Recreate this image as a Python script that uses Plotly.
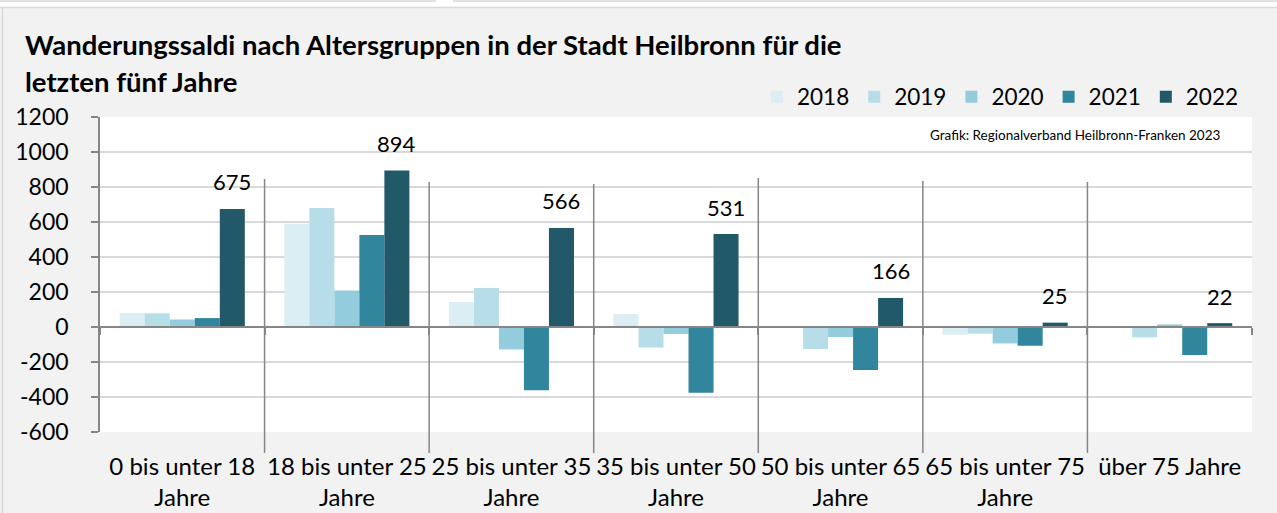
import plotly.graph_objects as go

# ---------------- data ----------------
categories = ["0 bis unter 18 Jahre", "18 bis unter 25 Jahre", "25 bis unter 35 Jahre",
              "35 bis unter 50 Jahre", "50 bis unter 65 Jahre", "65 bis unter 75 Jahre",
              "über 75 Jahre"]
tick_labels = ["0 bis unter 18<br>Jahre", "18 bis unter 25<br>Jahre", "25 bis unter 35<br>Jahre",
               "35 bis unter 50<br>Jahre", "50 bis unter 65<br>Jahre", "65 bis unter 75<br>Jahre",
               "über 75 Jahre"]
years = ["2018", "2019", "2020", "2021", "2022"]
v2018 = [80, 590, 143, 74, -5, -44, 5]
v2019 = [78, 680, 223, -117, -126, -38, -59]
v2020 = [43, 209, -128, -40, -57, -94, 15]
v2021 = [51, 526, -362, -375, -246, -107, -160]
v2022 = [675, 894, 566, 531, 166, 25, 22]
series = [v2018, v2019, v2020, v2021, v2022]
y_ticks = [-600, -400, -200, 0, 200, 400, 600, 800, 1000, 1200]
y_tick_text = [str(v) for v in y_ticks]

title_line1 = "Wanderungssaldi nach Altersgruppen in der Stadt Heilbronn für die"
title_line2 = "letzten fünf Jahre"
source_text = "Grafik: Regionalverband Heilbronn-Franken 2023"

# ---------------- style ----------------
colors = ["#dbeef4", "#b7dee8", "#93cddd", "#31859c", "#215968"]
FONT = "Lato"
W, H = 1277, 513
ML, MR, MT, MB = 100, 25, 117, 81
PW, PH = W - ML - MR, H - MT - MB
BARGAP = 0.24
AXIS_GRAY = "#868686"


def px2x(px):
    return (px - ML) / PW


def px2y(py):
    return (H - MB - py) / PH


fig = go.Figure()
for name, vals, col in zip(years, series, colors):
    fig.add_trace(go.Bar(x=categories, y=vals, name=name, marker=dict(color=col, line=dict(width=0)),
                         hoverinfo="x+y+name"))

# data labels for 2022 (offset to the 5th bar of each group)
cat_w = PW / len(categories)
bar_w = cat_w * (1 - BARGAP) / len(years)
for c, v in zip(categories, v2022):
    fig.add_annotation(x=c, y=v, xref="x", yref="y", text=str(v), showarrow=False,
                       xshift=2 * bar_w, yshift=27, yanchor="middle",
                       font=dict(family=FONT, size=22, color="black"))

# title + source
fig.add_annotation(x=px2x(23), y=px2y(45), xref="paper", yref="paper", text="<b>%s</b>" % title_line1,
                   showarrow=False, xanchor="left", yanchor="middle",
                   font=dict(family=FONT, size=27.5, color="black"))
fig.add_annotation(x=px2x(23), y=px2y(82), xref="paper", yref="paper", text="<b>%s</b>" % title_line2,
                   showarrow=False, xanchor="left", yanchor="middle",
                   font=dict(family=FONT, size=27.5, color="black"))
fig.add_annotation(x=px2x(1222), y=px2y(135), xref="paper", yref="paper", text=source_text,
                   showarrow=False, xanchor="right", yanchor="middle",
                   font=dict(family=FONT, size=13.5, color="black"))

# separator lines between categories
sep_tops = [179, 182, 184, 178, 181, 182]
for i, top in enumerate(sep_tops):
    fig.add_shape(type="line", xref="x", yref="paper", x0=i + 0.5, x1=i + 0.5,
                  y0=px2y(top), y1=px2y(453), line=dict(color=AXIS_GRAY, width=1.5), layer="above")

# outer frame decoration
fig.add_shape(type="rect", xref="paper", yref="paper", x0=px2x(-5), x1=px2x(W + 5), y0=px2y(7), y1=px2y(-5),
              fillcolor="white", line=dict(width=0), layer="below")
fig.add_shape(type="line", xref="paper", yref="paper", x0=px2x(0), x1=px2x(W), y0=px2y(7.5), y1=px2y(7.5),
              line=dict(color="#d9d9d9", width=1.5))
fig.add_shape(type="line", xref="paper", yref="paper", x0=px2x(0), x1=px2x(436), y0=px2y(1), y1=px2y(1),
              line=dict(color="#d9d9d9", width=1.5))
fig.add_shape(type="line", xref="paper", yref="paper", x0=px2x(453), x1=px2x(W), y0=px2y(1), y1=px2y(1),
              line=dict(color="#d9d9d9", width=1.5))
fig.add_shape(type="line", xref="paper", yref="paper", x0=px2x(2.5), x1=px2x(2.5), y0=px2y(7.5), y1=px2y(H),
              line=dict(color="#d9d9d9", width=1.5))

fig.update_layout(
    width=W, height=H,
    margin=dict(l=ML, r=MR, t=MT, b=MB, autoexpand=False),
    paper_bgcolor="#f2f2f2", plot_bgcolor="white",
    barmode="group", bargap=BARGAP, bargroupgap=0,
    font=dict(family=FONT, color="black"),
    showlegend=True,
    legend=dict(orientation="h", x=px2x(1244), xanchor="right", y=px2y(97), yanchor="middle",
                bgcolor="rgba(0,0,0,0)", font=dict(family=FONT, size=22.5), traceorder="normal",
                itemwidth=30, tracegroupgap=0),
    xaxis=dict(type="category", categoryorder="array", categoryarray=categories,
               tickvals=categories, ticktext=tick_labels, range=[-0.5, len(categories) - 0.5],
               showgrid=False, zeroline=False, showline=False, ticks="",
               tickfont=dict(family=FONT, size=24, color="black"), ticklabelstandoff=18),
    xaxis2=dict(overlaying="x", anchor="free", position=1 / 3,
                range=[-0.5, len(categories) - 0.5], tickvals=[i - 0.5 for i in range(len(categories) + 1)],
                showticklabels=False, ticks="outside", ticklen=7, tickwidth=1.5, tickcolor=AXIS_GRAY,
                showline=True, linecolor=AXIS_GRAY, linewidth=2, showgrid=False, zeroline=False),
    yaxis=dict(range=[-600, 1200], tickvals=y_ticks, ticktext=y_tick_text, showgrid=True,
               gridcolor="#d9d9d9", gridwidth=2,
               zeroline=False, showline=True, linecolor=AXIS_GRAY, linewidth=1.5,
               ticks="outside", ticklen=7, tickwidth=1.5, tickcolor=AXIS_GRAY,
               tickfont=dict(family=FONT, size=23, color="black"), ticklabelstandoff=18),
)
fig.add_trace(go.Scatter(x=[None], y=[None], xaxis="x2", showlegend=False, hoverinfo="skip"))

fig.write_html("out.html", config={"displayModeBar": False},
               post_script="document.body.style.margin='0';document.body.style.overflow='hidden';")
